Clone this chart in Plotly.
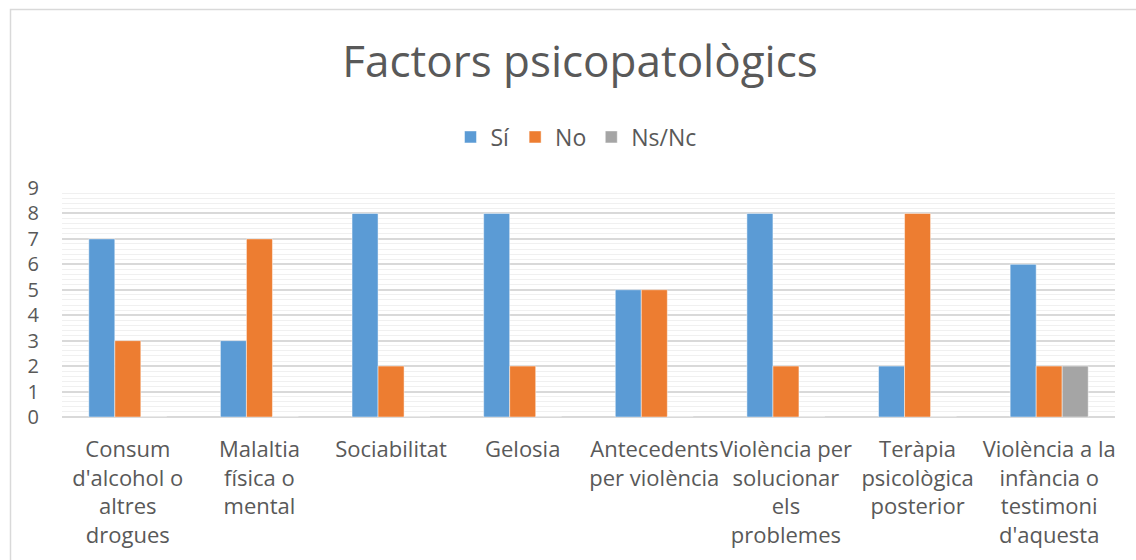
import plotly.graph_objects as go

categories = [
    "Consum<br>d'alcohol o<br>altres<br>drogues",
    "Malaltia<br>física o<br>mental",
    "Sociabilitat",
    "Gelosia",
    "Antecedents<br>per violència",
    "Violència per<br>solucionar<br>els<br>problemes",
    "Teràpia<br>psicològica<br>posterior",
    "Violència a la<br>infància o<br>testimoni<br>d'aquesta",
]
si_values = [7, 3, 8, 8, 5, 8, 2, 6]
no_values = [3, 7, 2, 2, 5, 2, 8, 2]
nsnc_values = [0, 0, 0, 0, 0, 0, 0, 2]
series_names = ["Sí", "No", "Ns/Nc"]
colors = ["#5B9BD5", "#ED7D31", "#A5A5A5"]

W, H = 1136, 560
ml, mr, mt, mb = 62, 21, 188, 143
pw, ph = W - ml - mr, H - mt - mb

fig = go.Figure()
for name, vals, c in zip(series_names, [si_values, no_values, nsnc_values], colors):
    fig.add_trace(go.Bar(x=categories, y=vals, name=name, marker_color=c,
                         marker_line=dict(color="rgba(255,255,255,0.6)", width=0.8)))

font_family = "'Open Sans', Lato, sans-serif"
txt = "#595959"


def px_to_paper_x(px):
    return (px - ml) / pw


def px_to_paper_y(py):
    return (H - mb - py) / ph


fig.update_layout(
    width=W, height=H,
    margin=dict(l=ml, r=mr, t=mt, b=mb),
    paper_bgcolor="white", plot_bgcolor="white",
    barmode="group", bargap=0.407, bargroupgap=0,
    font=dict(family=font_family, color=txt, size=22),
    title=dict(text="Factors psicopatològics", x=580 / W, xanchor="center",
               y=1 - 62 / H, yanchor="middle",
               font=dict(size=44, color=txt, family=font_family)),
    legend=dict(orientation="h", x=px_to_paper_x(576), xanchor="center",
                y=px_to_paper_y(137), yanchor="middle",
                font=dict(size=23, color=txt), itemwidth=30, traceorder="normal"),
    xaxis=dict(showline=False, ticks="", tickangle=0, ticklabelstandoff=17,
               tickfont=dict(size=22, color=txt)),
    yaxis=dict(range=[0, 9], dtick=1, showgrid=True, gridcolor="#D9D9D9",
               gridwidth=1.5, zeroline=True, zerolinecolor="#D9D9D9",
               zerolinewidth=1.5, ticks="", ticklabelstandoff=22,
               tickfont=dict(size=20, color=txt),
               minor=dict(dtick=0.2, showgrid=True, gridcolor="#F0F0F0", gridwidth=1)),
    shapes=[dict(type="rect", xref="paper", yref="paper",
                 x0=px_to_paper_x(10.5), x1=px_to_paper_x(1145),
                 y0=px_to_paper_y(570), y1=px_to_paper_y(9.5),
                 line=dict(color="#D9D9D9", width=1.5), fillcolor="rgba(0,0,0,0)",
                 layer="below")],
)

fig.write_html("out.html", config={"displayModeBar": False},
               post_script="document.body.style.margin='0';")
